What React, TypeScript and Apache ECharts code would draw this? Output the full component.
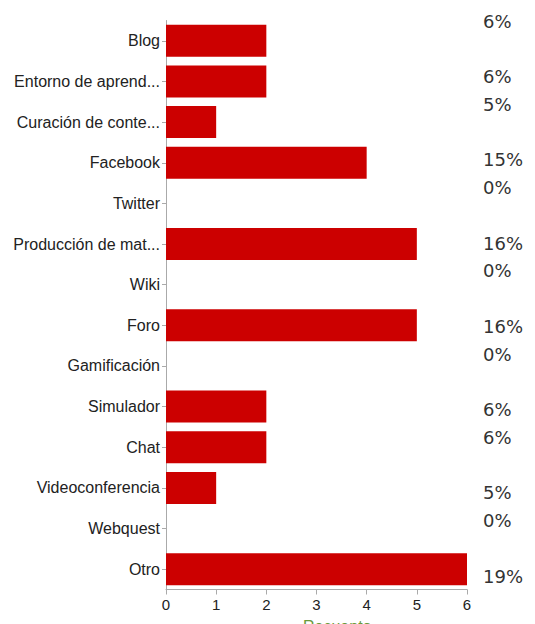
import React, { useEffect, useRef } from "react";
import * as echarts from "echarts";

const CATEGORIES = [
  "Blog",
  "Entorno de aprend...",
  "Curación de conte...",
  "Facebook",
  "Twitter",
  "Producción de mat...",
  "Wiki",
  "Foro",
  "Gamificación",
  "Simulador",
  "Chat",
  "Videoconferencia",
  "Webquest",
  "Otro",
];

const COUNTS = [2, 2, 1, 4, 0, 5, 0, 5, 0, 2, 2, 1, 0, 6];

// Percentage text column as it appears beside the chart (blank lines included)
const PCT_LINES = [
  "6%", "", "6%", "5%", "", "15%", "0%", "", "16%", "0%", "",
  "16%", "0%", "", "6%", "6%", "", "5%", "0%", "", "19%",
];

const X_TICKS = [0, 1, 2, 3, 4, 5, 6];
const AXIS_TITLE = "Recuento";

export default function App() {
  const ref = useRef<HTMLDivElement>(null);

  useEffect(() => {
    document.body.style.margin = "0";
    const chart = echarts.init(ref.current!, null, { renderer: "svg" });
    const lineH = 27.75;
    chart.setOption({
      animation: false,
      backgroundColor: "#ffffff",
      grid: { left: 166, right: 68, top: 20.5, bottom: 34.5, containLabel: false },
      xAxis: {
        type: "value",
        min: X_TICKS[0],
        max: X_TICKS[X_TICKS.length - 1],
        interval: 1,
        axisLine: { show: true, lineStyle: { color: "#aaaaaa", width: 1 } },
        axisTick: { show: true, length: 5, lineStyle: { color: "#aaaaaa" } },
        axisLabel: {
          fontFamily: "Liberation Sans, Arial, sans-serif",
          fontSize: 15,
          color: "#222222",
          margin: 7,
        },
        splitLine: { show: false },
      },
      yAxis: {
        type: "category",
        inverse: true,
        data: CATEGORIES,
        axisLine: { show: true, lineStyle: { color: "#aaaaaa", width: 1 } },
        axisTick: { show: true, alignWithLabel: true, length: 4, lineStyle: { color: "#aaaaaa" } },
        axisLabel: {
          fontFamily: "Liberation Sans, Arial, sans-serif",
          fontSize: 16,
          color: "#222222",
          margin: 6,
        },
      },
      series: [
        {
          type: "bar",
          data: COUNTS,
          barWidth: 32,
          itemStyle: { color: "#cc0000" },
        },
      ],
      graphic: [
        {
          type: "text",
          left: 483,
          top: 21 - lineH / 2,
          style: {
            text: PCT_LINES.join("\n"),
            fontFamily: "DejaVu Sans, Verdana, sans-serif",
            fontSize: 18,
            lineHeight: lineH,
            fill: "#333333",
            align: "left",
          },
        },
        {
          type: "text",
          left: 303,
          top: 618,
          style: {
            text: AXIS_TITLE,
            fontFamily: "Liberation Sans, Arial, sans-serif",
            fontSize: 16,
            fill: "#6a9a3a",
          },
        },
      ],
    });
    return () => chart.dispose();
  }, []);

  return <div ref={ref} style={{ width: 535, height: 624 }} />;
}
